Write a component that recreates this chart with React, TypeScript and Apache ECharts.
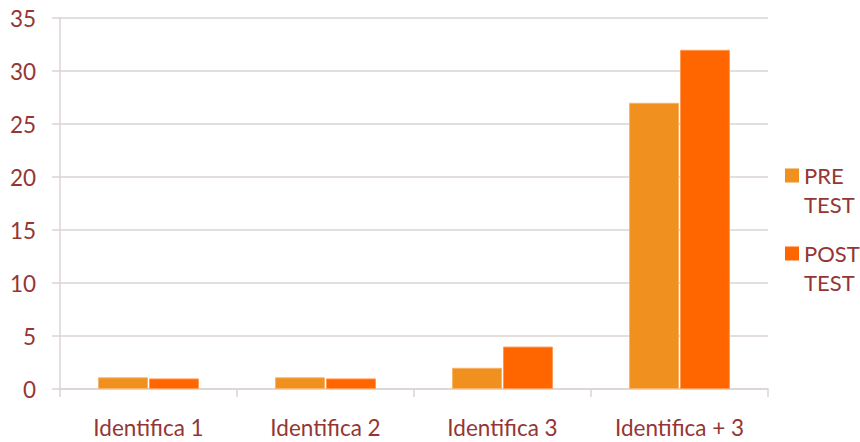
import React, { useEffect, useRef } from "react";
import * as echarts from "echarts";

const categories = ["Identifica 1", "Identifica 2", "Identifica 3", "Identifica + 3"];
const preTest = [1.1, 1.1, 2, 27];
const postTest = [1, 1, 4, 32];
const seriesNames = ["PRE TEST", "POST TEST"];

const TEXT = "#943634";
const GRID = "#DDD3D3";
const FONT = "Lato, 'Open Sans', sans-serif";

export default function App() {
  const ref = useRef<HTMLDivElement>(null);
  useEffect(() => {
    if (!ref.current) return;
    const chart = echarts.init(ref.current, null, { renderer: "svg" });
    chart.setOption({
      animation: false,
      backgroundColor: "#ffffff",
      textStyle: { fontFamily: FONT },
      grid: { left: 60, right: 92, top: 18, bottom: 53 },
      legend: {
        orient: "vertical",
        left: 785,
        top: 161,
        padding: 0,
        itemGap: 20,
        itemWidth: 14,
        itemHeight: 43,
        icon: "path://M0,0L10,0L10,10L0,10Z M0,30.71L0.001,30.71",
        itemStyle: { borderWidth: 0 },
        data: seriesNames,
        formatter: (name: string) => name.replace(" ", "\n"),
        textStyle: { color: TEXT, fontSize: 22, lineHeight: 29, fontFamily: FONT },
      },
      xAxis: {
        type: "category",
        data: categories,
        axisLine: { show: true, lineStyle: { color: GRID, width: 1.5 } },
        axisTick: { show: true, length: 8, lineStyle: { color: GRID, width: 1.5 } },
        axisLabel: { color: TEXT, fontSize: 22.5, margin: 27, fontFamily: FONT },
      },
      yAxis: {
        type: "value",
        min: 0,
        max: 35,
        interval: 5,
        axisLine: { show: true, lineStyle: { color: GRID, width: 1.5 } },
        axisTick: { show: true, length: 8, lineStyle: { color: GRID, width: 1.5 } },
        splitLine: { show: true, lineStyle: { color: GRID, width: 1.5 } },
        axisLabel: { color: TEXT, fontSize: 22.5, margin: 24, fontFamily: FONT },
      },
      series: [
        {
          name: seriesNames[0],
          type: "bar",
          data: preTest,
          barGap: "2%",
          barCategoryGap: "43%",
          itemStyle: { color: "#F0901F", borderColor: "#F6B46A", borderWidth: 1 },
        },
        {
          name: seriesNames[1],
          type: "bar",
          data: postTest,
          barGap: "2%",
          barCategoryGap: "43%",
          itemStyle: { color: "#FF6600", borderColor: "#FF9A55", borderWidth: 1 },
        },
      ],
    });
    return () => chart.dispose();
  }, []);
  return <div ref={ref} style={{ width: 860, height: 442, position: "absolute", left: 0, top: 0 }} />;
}
